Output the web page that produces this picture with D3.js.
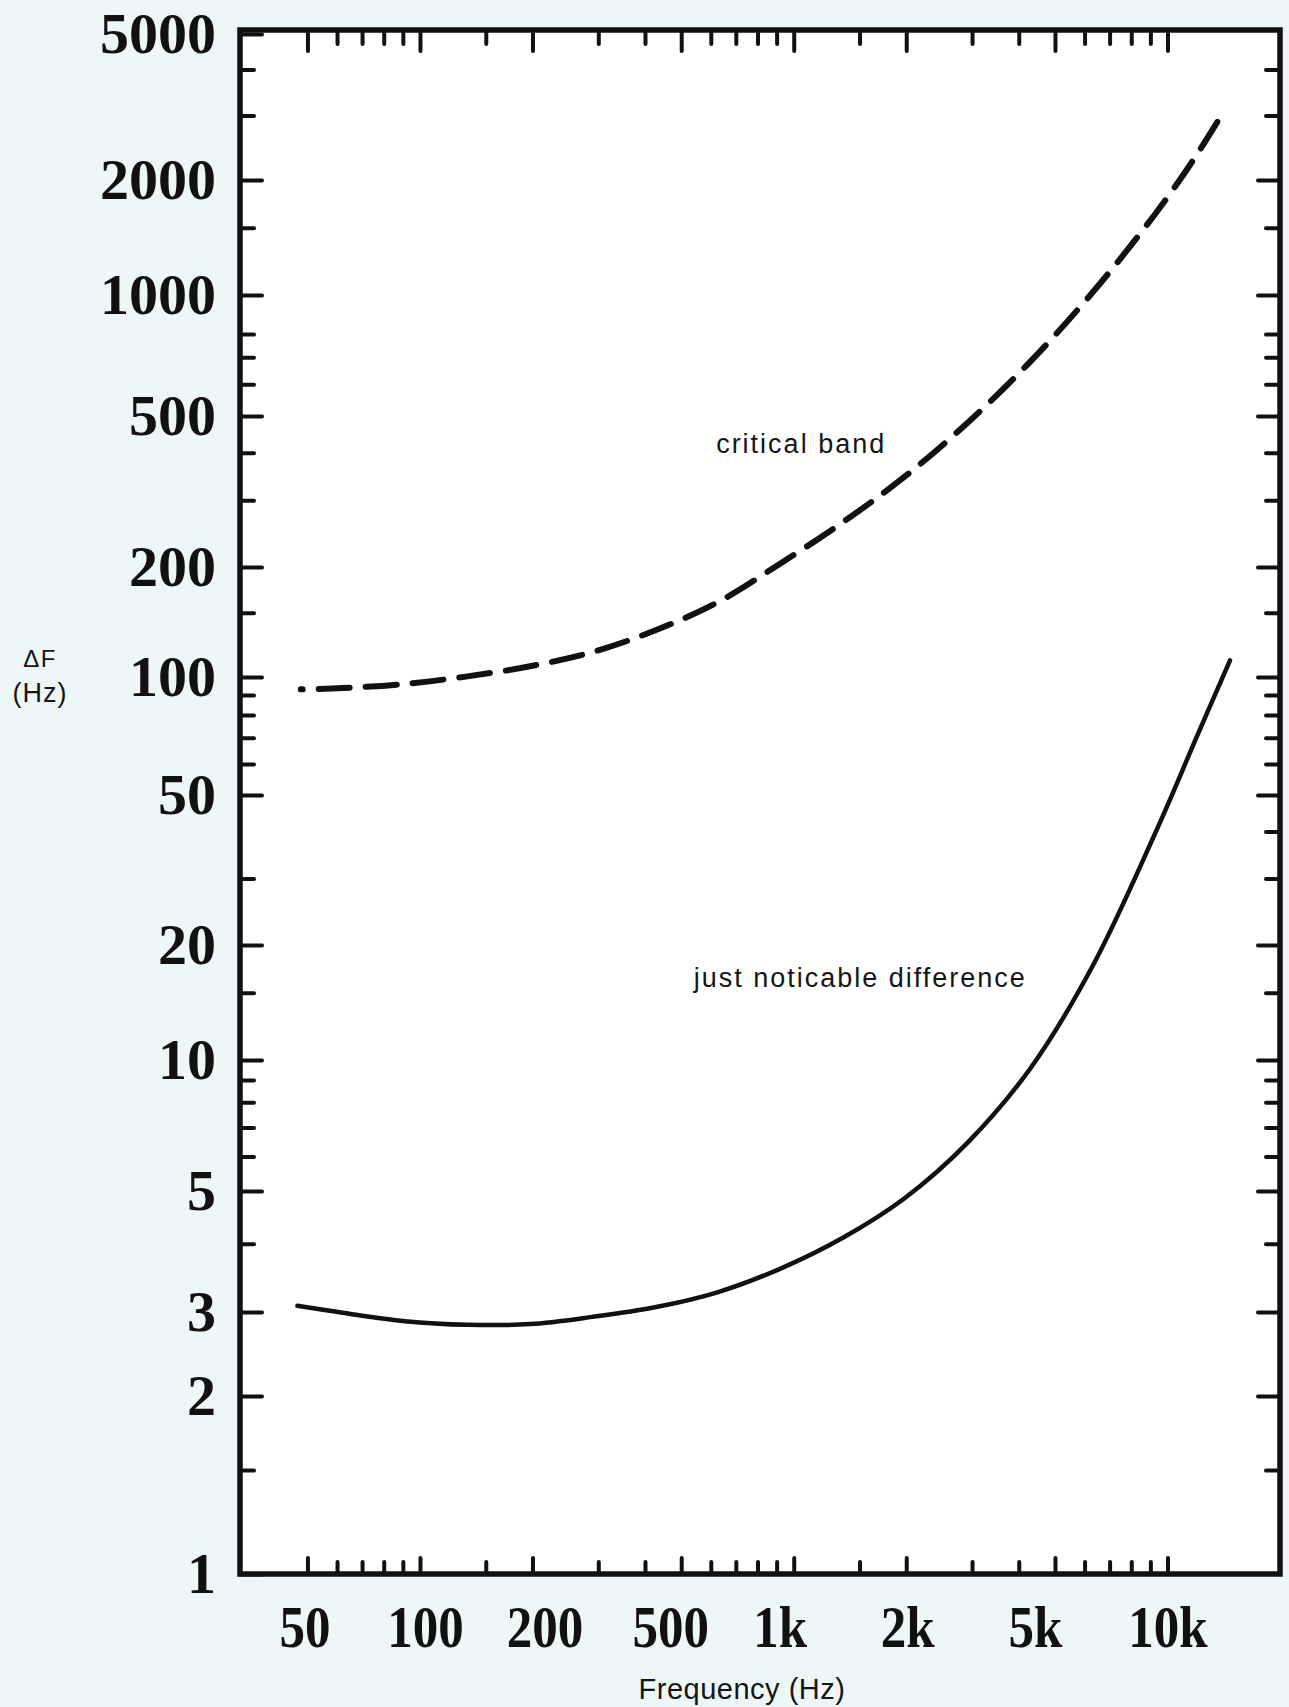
<!DOCTYPE html>
<html>
<head>
<meta charset="utf-8">
<script src="https://cdn.jsdelivr.net/npm/d3@7"></script>
<style>
  html, body { margin: 0; padding: 0; background: #eef7f7; }
  svg { display: block; }
  .num { font-family: "Liberation Serif", "DejaVu Serif", serif; font-weight: bold; font-size: 58px; fill: #111; }
  .numx { font-size: 60px; }
  .lbl { font-family: "Liberation Sans", Arial, sans-serif; fill: #151515; }
</style>
</head>
<body>
<div id="chart"></div>
<script>
// tick values of the two log axes
const freqTicks = [50, 100, 200, 500, 1000, 2000, 5000, 10000];
const freqLabels = ["50", "100", "200", "500", "1k", "2k", "5k", "10k"];
const freqMinor = [60, 70, 80, 90, 150, 300, 400, 600, 700, 800, 900, 1500, 3000, 4000, 6000, 7000, 8000, 9000];
const dfTicks = [1, 2, 3, 5, 10, 20, 50, 100, 200, 500, 1000, 2000, 5000];
const dfMinor = [1.5, 4, 6, 7, 8, 9, 15, 30, 60, 70, 80, 90, 150, 300, 400, 600, 700, 800, 1500, 3000, 4000];

// critical band (dashed)
const cbFreq = [48, 62, 91, 134, 197, 289, 425, 625, 919, 1350, 1980, 2920, 4290, 6300, 9250, 11700, 14070];
const cbWidth = [93, 93.7, 96, 100.4, 107, 117, 134, 160, 204, 262, 346, 480, 682, 1015, 1625, 2260, 3050];

// just noticable difference (solid)
const jndFreq = [47, 62, 91, 134, 197, 289, 425, 625, 919, 1350, 1980, 2920, 4290, 6300, 9250, 12100, 14700];
const jndWidth = [3.08, 2.99, 2.87, 2.82, 2.83, 2.93, 3.06, 3.26, 3.6, 4.1, 4.85, 6.46, 9.55, 17.6, 39.4, 72, 111];

const width = 1289;
const height = 1707;
const frame = { left: 240, right: 1280, top: 30, bottom: 1574 };
// the hand-lettered frequency labels sit a little off their ticks
const labelShift = [-3, 5, 12, -11, -14, 1, -20, 0];

const x = d3.scaleLog()
  .domain([33, 20000])
  .range([frame.left, frame.right]);

// the printed y axis is not evenly logarithmic (lower decade is stretched),
// so the scale is piecewise through the positions of the printed ticks
const yStops = [1574, 1396, 1312, 1191, 1060, 945, 795, 677, 567, 416, 295, 180, 34];
const y = d3.scaleLog()
  .domain(dfTicks)
  .range(yStops);

const svg = d3.select("#chart")
  .append("svg")
  .attr("width", width)
  .attr("height", height);

svg.append("rect")
  .attr("x", frame.left)
  .attr("y", frame.top)
  .attr("width", frame.right - frame.left)
  .attr("height", frame.bottom - frame.top)
  .attr("fill", "#fff");

const styleTicks = (g) => {
  g.select(".domain").remove();
  g.selectAll("line")
    .attr("stroke", "#111")
    .attr("stroke-width", 4)
    .attr("stroke-linecap", "round");
};

// left
svg.append("g")
  .attr("transform", `translate(${frame.left},0)`)
  .call(d3.axisLeft(y).tickValues(dfTicks).tickFormat(d3.format("d"))
    .tickSize(-22).tickSizeOuter(0).tickPadding(24))
  .call(styleTicks)
  .call((g) => g.selectAll("text").attr("class", "num"));

svg.append("g")
  .attr("transform", `translate(${frame.left},0)`)
  .call(d3.axisLeft(y).tickValues(dfMinor).tickFormat("").tickSize(-14).tickSizeOuter(0))
  .call(styleTicks);

// right
svg.append("g")
  .attr("transform", `translate(${frame.right},0)`)
  .call(d3.axisRight(y).tickValues(dfTicks.slice(1, -1)).tickFormat("").tickSize(-22).tickSizeOuter(0))
  .call(styleTicks);

svg.append("g")
  .attr("transform", `translate(${frame.right},0)`)
  .call(d3.axisRight(y).tickValues(dfMinor.concat([40])).tickFormat("").tickSize(-14).tickSizeOuter(0))
  .call(styleTicks);

// bottom
svg.append("g")
  .attr("transform", `translate(0,${frame.bottom})`)
  .call(d3.axisBottom(x).tickValues(freqTicks).tickFormat((d, i) => freqLabels[i])
    .tickSize(-16).tickSizeOuter(0).tickPadding(30))
  .call(styleTicks)
  .call((g) => g.selectAll("text")
    .attr("class", "num numx")
    .attr("transform", (d, i) => `translate(${labelShift[i]},0) scale(0.85,1)`));

svg.append("g")
  .attr("transform", `translate(0,${frame.bottom})`)
  .call(d3.axisBottom(x).tickValues(freqMinor).tickFormat("").tickSize(-12).tickSizeOuter(0))
  .call(styleTicks);

// top
svg.append("g")
  .attr("transform", `translate(0,${frame.top})`)
  .call(d3.axisTop(x).tickValues(freqTicks).tickFormat("").tickSize(-21).tickSizeOuter(0))
  .call(styleTicks);

svg.append("g")
  .attr("transform", `translate(0,${frame.top})`)
  .call(d3.axisTop(x).tickValues(freqMinor).tickFormat("").tickSize(-14).tickSizeOuter(0))
  .call(styleTicks);

const line = d3.line()
  .x((d) => x(d[0]))
  .y((d) => y(d[1]))
  .curve(d3.curveCatmullRom.alpha(0.5));

svg.append("path")
  .attr("d", line(d3.zip(cbFreq, cbWidth)))
  .attr("fill", "none")
  .attr("stroke", "#111")
  .attr("stroke-width", 6)
  .attr("stroke-dasharray", "31,16")
  .attr("stroke-dashoffset", 29)
  .attr("stroke-linecap", "round");

svg.append("path")
  .attr("d", line(d3.zip(jndFreq, jndWidth)))
  .attr("fill", "none")
  .attr("stroke", "#111")
  .attr("stroke-width", 4.5)
  .attr("stroke-linecap", "round");

svg.append("rect")
  .attr("x", frame.left)
  .attr("y", frame.top)
  .attr("width", frame.right - frame.left)
  .attr("height", frame.bottom - frame.top)
  .attr("fill", "none")
  .attr("stroke", "#111")
  .attr("stroke-width", 5.5);

// annotations
svg.append("text")
  .attr("class", "lbl")
  .attr("x", x(620))
  .attr("y", y(400))
  .attr("font-size", 27)
  .attr("letter-spacing", 2)
  .text("critical band");

svg.append("text")
  .attr("class", "lbl")
  .attr("x", x(540))
  .attr("y", y(15.5))
  .attr("font-size", 27)
  .attr("letter-spacing", 2)
  .text("just noticable difference");

svg.append("text")
  .attr("class", "lbl")
  .attr("x", 40)
  .attr("y", 667)
  .attr("text-anchor", "middle")
  .attr("font-size", 24)
  .attr("letter-spacing", 1.5)
  .text("ΔF");

svg.append("text")
  .attr("class", "lbl")
  .attr("x", 40)
  .attr("y", 702)
  .attr("text-anchor", "middle")
  .attr("font-size", 27)
  .attr("letter-spacing", 1)
  .text("(Hz)");

svg.append("text")
  .attr("class", "lbl")
  .attr("x", 742)
  .attr("y", 1699)
  .attr("text-anchor", "middle")
  .attr("font-size", 29)
  .attr("letter-spacing", 0.5)
  .text("Frequency (Hz)");
</script>
</body>
</html>
